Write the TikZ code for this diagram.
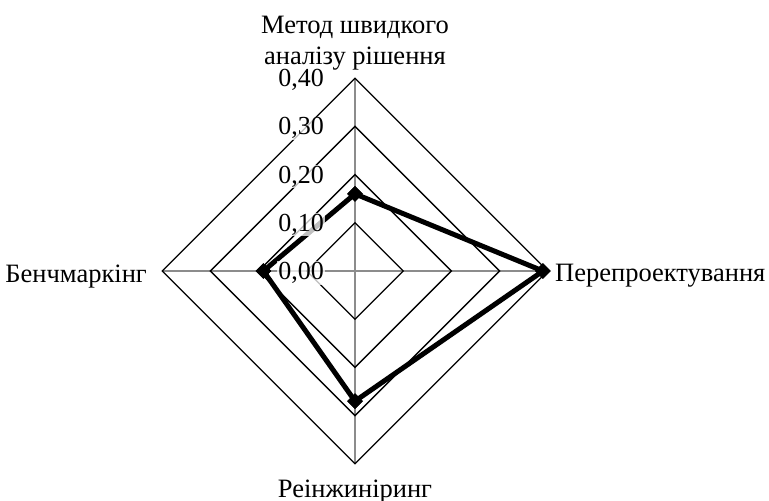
\documentclass[tikz,border=0pt]{standalone}
\usepackage{fontspec}
\setmainfont{Liberation Serif}
\usetikzlibrary{shapes.geometric}
\begin{document}
\begin{tikzpicture}[x=1pt,y=-1pt,
  txt/.style={font=\fontsize{26.5}{31}\selectfont, inner sep=0pt, align=center},
  ticklbl/.style={font=\fontsize{26}{31}\selectfont, inner sep=1pt, anchor=base east,
     fill=white, fill opacity=0.75, text opacity=1},
  spoke/.style={draw=black!45, line width=1.5pt},
  ring/.style={draw=black, line width=1.3pt},
  series/.style={draw=black, line width=5pt, line join=miter},
  marker/.style={diamond, fill=black, draw=black, inner sep=0pt, minimum size=15pt, line width=0.5pt}]
\useasboundingbox (0,0) rectangle (769,501);
\def\cx{355}\def\cy{271}\def\k{48.2}
\coordinate (c) at (\cx,\cy);
\coordinate (t) at (\cx,\cy-4*\k);
\coordinate (r) at (\cx+4*\k,\cy);
\coordinate (b) at (\cx,\cy+4*\k);
\coordinate (l) at (\cx-4*\k,\cy);
% spokes
\draw[spoke] (c) -- (t);
\draw[spoke] (c) -- (r);
\draw[spoke] (c) -- (b);
\draw[spoke] (c) -- (l);
% rings
\foreach \i in {1,2,3,4}{
  \draw[ring] (\cx,\cy-\i*\k) -- (\cx+\i*\k,\cy) -- (\cx,\cy+\i*\k) -- (\cx-\i*\k,\cy) -- cycle;
}
% data
\node[marker] (d1) at (\cx,\cy-0.16*10*\k) {};
\node[marker] (d2) at (\cx+0.39*10*\k,\cy) {};
\node[marker] (d3) at (\cx,\cy+0.27*10*\k) {};
\node[marker] (d4) at (\cx-0.19*10*\k,\cy) {};
\draw[series] (d1.center) -- (d2.center) -- (d3.center) -- (d4.center) -- cycle;
\node[marker] at (d1.center) {};
\node[marker] at (d2.center) {};
\node[marker] at (d3.center) {};
\node[marker] at (d4.center) {};
% tick labels
\node[ticklbl] (v0) at (325,\cy+8.5) {0,00};
\node[ticklbl] (v1) at (325,\cy-\k+8.5) {0,10};
\node[ticklbl] (v2) at (325,\cy-2*\k+8.5) {0,20};
\node[ticklbl] (v3) at (325,\cy-3*\k+8.5) {0,30};
\node[ticklbl] (v4) at (325,\cy-4*\k+8.5) {0,40};
% axis labels
\node[txt, anchor=base] (lt1) at (\cx,33) {Метод швидкого};
\node[txt, anchor=base] (lt2) at (\cx,64) {аналізу рішення};
\node[txt, anchor=base west] (lr) at (555,281) {Перепроектування};
\node[txt, anchor=base] (lb) at (\cx,497) {Реінжиніринг};
\node[txt, anchor=base east] (ll) at (147,282) {Бенчмаркінг};
\end{tikzpicture}
\end{document}
